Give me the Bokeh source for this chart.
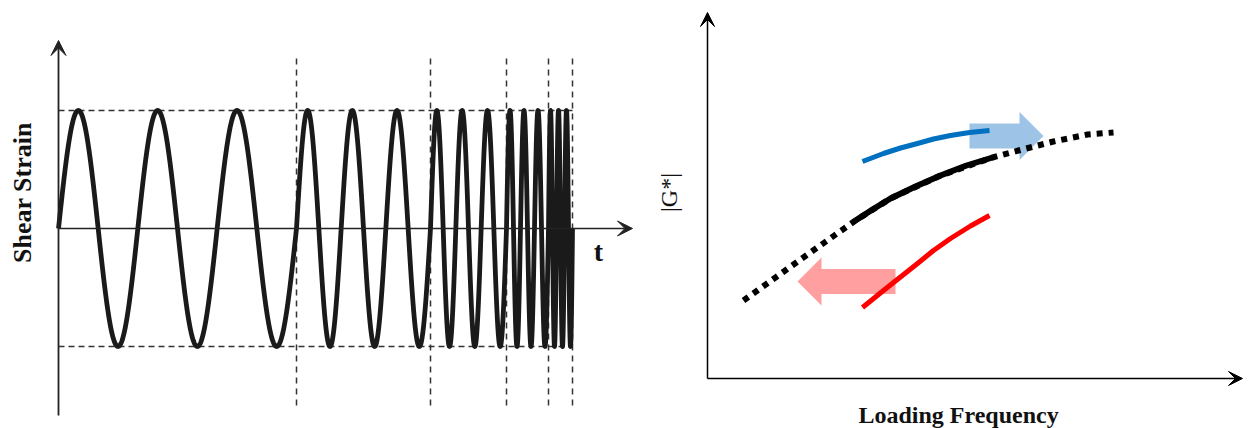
import numpy as np
from bokeh.plotting import figure
from bokeh.layouts import row
from bokeh.models import Arrow, VeeHead, Label, Range1d
from bokeh.embed import file_html
from bokeh.resources import INLINE

# ---------------- left panel data (time axis, strain axis) ----------------
segment_edges = [0, 238, 372, 448, 490, 514]       # time where frequency steps up
cycles_per_segment = [3, 3, 3, 3, 3]               # cycles inside each step
amplitude = 1.0                                    # strain amplitude
guide_top, guide_bottom = 1.449, -1.5              # extent of vertical guides
yaxis_lo, yaxis_hi = -1.585, 1.593
xaxis_end = 574

# ---------------- right panel data (loading frequency, |G*|) ----------------
master_x = [36, 93, 148, 183, 233, 285, 311, 346, 380, 406]
master_y = [78, 119, 158, 180, 203, 221, 228, 237, 244, 246]
measured_x = [148, 165, 183, 208, 233, 259, 285]
measured_y = [158, 169, 180, 192, 203, 213, 221]
blue_x = [155, 176, 193, 210, 226, 243, 262, 282]
blue_y = [217, 225, 230.5, 235, 239.5, 243, 246, 248]
red_x = [155, 176, 210, 226, 243, 263, 282]
red_y = [71, 88, 115, 128, 140, 152.5, 163]
# shift arrows: tail x, tip x, centre y
blue_arrow = dict(tail=262, tip=336, y=242.5)
red_arrow = dict(tail=188, tip=90, y=97)

SERIF = "Liberation Serif"

# ======================= LEFT FIGURE =======================
pL = figure(width=648, height=428, x_range=Range1d(-58, 590),
            y_range=Range1d(-1.695, 1.932), output_backend="svg",
            toolbar_location=None, x_axis_location=None, y_axis_location=None,
            min_border=0, outline_line_color=None)
pL.grid.grid_line_color = None

t_all, s_all = [], []
for i, n in enumerate(cycles_per_segment):
    t0, t1 = segment_edges[i], segment_edges[i + 1]
    tt = np.linspace(t0, t1, 800)
    t_all.append(tt)
    s_all.append(amplitude * np.sin(2 * np.pi * n * (tt - t0) / (t1 - t0)))
t_all = np.concatenate(t_all)
s_all = np.concatenate(s_all)

for a in (amplitude, -amplitude):
    pL.line([segment_edges[0], segment_edges[-1]], [a, a], line_dash="6 4",
            line_width=1.5, line_color="#333333")
pL.segment(x0=segment_edges[1:], y0=guide_bottom, x1=segment_edges[1:],
           y1=guide_top, line_dash="6 5", line_width=1.5, line_color="#333333")

pL.line(t_all, s_all, line_width=4.8, line_color="#1a1a1a", line_join="round")

pL.add_layout(Arrow(end=VeeHead(size=15, fill_color="#222222", line_color="#222222"),
                    x_start=0, y_start=yaxis_lo, x_end=0, y_end=yaxis_hi,
                    line_width=1.8, line_color="#222222"))
pL.add_layout(Arrow(end=VeeHead(size=15, fill_color="#222222", line_color="#222222"),
                    x_start=0, y_start=0, x_end=xaxis_end, y_end=0,
                    line_width=1.5, line_color="#222222"))

pL.add_layout(Label(x=-36, y=0.305, text="Shear Strain", text_font=SERIF,
                    text_font_style="bold", text_font_size="26px",
                    text_align="center", text_baseline="middle", angle=np.pi / 2,
                    text_color="#111111"))
pL.add_layout(Label(x=540, y=-0.195, text="t", text_font=SERIF,
                    text_font_style="bold", text_font_size="28px",
                    text_align="center", text_baseline="middle", text_color="#111111"))

# ======================= RIGHT FIGURE =======================
pR = figure(width=600, height=428, x_range=Range1d(-59, 541),
            y_range=Range1d(-50, 378), output_backend="svg",
            toolbar_location=None, x_axis_location=None, y_axis_location=None,
            min_border=0, outline_line_color=None)
pR.grid.grid_line_color = None


def arrow_shape(tail, tip, y, body_half=12.5, head_half=24, head_len=24):
    d = 1 if tip > tail else -1
    base = tip - d * head_len
    xs = [tail, base, base, tip, base, base, tail]
    ys = [y - body_half, y - body_half, y - head_half, y,
          y + head_half, y + body_half, y + body_half]
    return xs, ys


bx, by = arrow_shape(**blue_arrow)
pR.patch(bx, by, fill_color="#9DC3E6", line_color=None)
rx, ry = arrow_shape(**red_arrow)
pR.patch(rx, ry, fill_color="#FF9F9F", line_color=None)

pR.line(master_x, master_y, line_width=6, line_color="black", line_dash="6 6")
pR.line(measured_x, measured_y, line_width=6, line_color="black", line_join="round")
pR.line(blue_x, blue_y, line_width=5, line_color="#0070C0", line_join="round")
pR.line(red_x, red_y, line_width=5, line_color="#FF0000", line_join="round")

pR.add_layout(Arrow(end=VeeHead(size=14, fill_color="black", line_color="black"),
                    x_start=0, y_start=0, x_end=0, y_end=366,
                    line_width=1.5, line_color="black"))
pR.add_layout(Arrow(end=VeeHead(size=14, fill_color="black", line_color="black"),
                    x_start=0, y_start=0, x_end=535, y_end=0,
                    line_width=1.5, line_color="black"))

pR.add_layout(Label(x=251, y=-36, text="Loading Frequency", text_font=SERIF,
                    text_font_style="bold", text_font_size="24px",
                    text_align="center", text_baseline="alphabetic", text_color="#111111"))
pR.add_layout(Label(x=-39, y=186, text="|G*|", text_font=SERIF,
                    text_font_size="24px", text_align="center",
                    text_baseline="middle", angle=np.pi / 2, text_color="#111111"))

layout = row(pL, pR, spacing=0)
open("out.html", "w").write(file_html(layout, INLINE))
